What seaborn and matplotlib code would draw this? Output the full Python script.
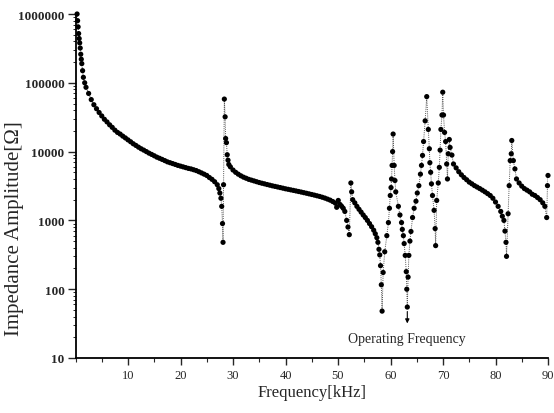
import numpy as np
import pandas as pd
import matplotlib
matplotlib.use("Agg")
import matplotlib.pyplot as plt
import matplotlib.ticker as mticker
import seaborn as sns

# ---- data (frequency in kHz, impedance in ohm) ----
freq_seg1 = [0.3, 0.4, 0.5, 0.6, 0.7, 0.8, 0.9, 1.0, 1.1, 1.2,
             1.35, 1.5, 1.75, 2.0, 2.5, 3.0, 3.5, 4.0, 4.5, 5.0,
             5.5, 6.0, 6.5, 7.0, 7.5, 8.0, 8.5, 9.0, 9.5, 10.0,
             10.5, 11.0, 11.5, 12.0, 12.5, 13.0, 13.5, 14.0, 14.5, 15.0,
             15.5, 16.0, 16.5, 17.0, 17.5, 18.0, 18.5, 19.0, 19.5, 20.0,
             20.5, 21.0, 21.5, 22.0, 22.5, 23.0, 23.5, 24.0, 24.5, 25.0,
             25.5, 26.0, 26.5, 27.0, 27.3, 27.5, 27.7, 27.85, 28.0, 28.1]
imp_seg1 = [1.0e6, 8.0e5, 6.5e5, 5.2e5, 4.4e5, 3.8e5, 3.2e5, 2.6e5, 2.2e5, 1.9e5,
            1.5e5, 1.2e5, 1.0e5, 8.6e4, 7.0e4, 5.7e4, 4.8e4, 4.2e4, 3.7e4, 3.3e4,
            2.95e4, 2.7e4, 2.45e4, 2.25e4, 2.05e4, 1.9e4, 1.8e4, 1.68e4, 1.58e4, 1.48e4,
            1.39e4, 1.3e4, 1.23e4, 1.16e4, 1.1e4, 1.05e4, 1.0e4, 9.5e3, 9.1e3, 8.7e3,
            8.3e3, 8.0e3, 7.7e3, 7.4e3, 7.1e3, 6.9e3, 6.7e3, 6.5e3, 6.3e3, 6.15e3,
            6.0e3, 5.85e3, 5.7e3, 5.6e3, 5.45e3, 5.3e3, 5.1e3, 4.9e3, 4.7e3, 4.5e3,
            4.2e3, 3.95e3, 3.65e3, 3.3e3, 2.9e3, 2.5e3, 2.1e3, 1.6e3, 900, 480]

freq_seg2 = [28.2, 28.35, 28.5, 28.6, 28.75, 28.9, 29.05, 29.2,
             29.5, 30.0, 30.5, 31.0, 31.5, 32.0, 32.5, 33.0, 33.5, 34.0,
             34.5, 35.0, 35.5, 36.0, 36.5, 37.0, 37.5, 38.0, 38.5, 39.0,
             39.5, 40.0, 40.5, 41.0, 41.5, 42.0, 42.5, 43.0, 43.5, 44.0,
             44.5, 45.0, 45.5, 46.0, 46.5, 47.0, 47.5, 48.0, 48.5, 49.0, 49.5]
imp_seg2 = [3.3e3, 5.8e4, 3.2e4, 1.55e4, 1.35e4, 9.0e3, 7.5e3, 6.5e3,
            6.0e3, 5.4e3, 5.0e3, 4.7e3, 4.45e3, 4.25e3, 4.1e3, 3.95e3, 3.85e3, 3.75e3,
            3.65e3, 3.55e3, 3.47e3, 3.4e3, 3.32e3, 3.25e3, 3.18e3, 3.12e3, 3.06e3, 3.0e3,
            2.94e3, 2.88e3, 2.83e3, 2.78e3, 2.73e3, 2.68e3, 2.63e3, 2.58e3, 2.53e3, 2.48e3,
            2.43e3, 2.38e3, 2.33e3, 2.28e3, 2.23e3, 2.17e3, 2.11e3, 2.04e3, 1.97e3, 1.88e3, 1.78e3]

freq_seg3 = [49.75, 50.05, 50.4, 50.7, 51.0, 51.3, 51.65, 51.9, 52.15, 52.45, 52.6,
             52.8, 53.2, 53.6, 54.0, 54.4, 54.8, 55.2, 55.6, 56.0, 56.4,
             56.8, 57.1, 57.4, 57.6, 57.8, 57.95, 58.1, 58.25, 58.4]
imp_seg3 = [1.55e3, 1.95e3, 1.7e3, 1.6e3, 1.5e3, 1.35e3, 1.0e3, 800, 620, 3.5e3, 2.6e3,
            2.0e3, 1.8e3, 1.6e3, 1.45e3, 1.32e3, 1.2e3, 1.1e3, 1.0e3, 900, 810,
            720, 640, 560, 480, 380, 315, 220, 116, 48]

freq_seg4 = [58.6, 58.9, 59.3, 59.6, 59.8, 59.95, 60.1, 60.2, 60.3, 60.4, 60.5,
             60.7, 60.85, 61.0, 61.5, 61.8, 62.1, 62.25, 62.45, 62.6, 62.8, 63.0, 63.1, 63.2,
             63.35, 63.5, 63.7, 63.9, 64.2, 64.5, 64.85, 65.1, 65.4, 65.7, 65.9, 66.1, 66.3, 66.6, 66.9]
imp_seg4 = [175, 350, 600, 930, 1.5e3, 2.3e3, 3.0e3, 4.0e3, 6.3e3, 1.0e4, 1.8e4,
            6.3e3, 3.8e3, 2.6e3, 1.6e3, 1.2e3, 930, 740, 600, 460, 310, 180, 100, 55,
            150, 310, 500, 690, 1.1e3, 1.5e3, 1.9e3, 2.5e3, 3.2e3, 4.7e3, 6.3e3, 8.8e3, 1.4e4, 2.8e4, 6.3e4]

freq_seg5 = [67.2, 67.4, 67.5, 67.65, 67.8, 68.0, 68.3, 68.5, 68.6,
             68.8, 69.1, 69.3, 69.45, 69.6, 69.8, 69.95,
             70.1, 70.3, 70.5, 70.7, 70.85, 71.0, 71.2, 71.35, 71.7]
imp_seg5 = [2.1e4, 1.1e4, 6.9e3, 5.0e3, 3.4e3, 2.3e3, 1.4e3, 760, 430,
            1.95e3, 3.5e3, 5.9e3, 1.05e4, 2.1e4, 3.4e4, 7.3e4,
            3.4e4, 1.9e4, 1.4e4, 6.6e3, 4.0e3, 9.3e3, 1.5e4, 1.15e4, 8.9e3]

freq_seg6 = [72.0, 72.5, 73.0, 73.5, 74.0, 74.5, 75.0, 75.5, 76.0, 76.5,
             77.0, 77.5, 78.0, 78.5, 79.0, 79.5, 80.0, 80.5, 81.0, 81.3,
             81.6, 81.8, 82.0, 82.1, 82.4, 82.6, 82.8, 83.0, 83.1, 83.4,
             83.7, 84.0, 84.5, 85.0, 85.5, 86.0, 86.5, 87.0, 87.5, 88.0,
             88.5, 89.0, 89.4, 89.75, 89.9, 90.0]
imp_seg6 = [6.6e3, 5.8e3, 5.1e3, 4.6e3, 4.2e3, 3.9e3, 3.6e3, 3.4e3, 3.2e3, 3.05e3,
            2.9e3, 2.75e3, 2.6e3, 2.45e3, 2.3e3, 2.1e3, 1.85e3, 1.6e3, 1.35e3, 1.15e3,
            1.0e3, 700, 480, 300, 1.25e3, 3.2e3, 7.4e3, 9.3e3, 1.45e4, 7.4e3,
            5.6e3, 4.0e3, 3.5e3, 3.15e3, 2.9e3, 2.75e3, 2.6e3, 2.4e3, 2.3e3, 2.15e3,
            2.0e3, 1.8e3, 1.6e3, 1.1e3, 3.2e3, 4.5e3]

x_ticks = [10, 20, 30, 40, 50, 60, 70, 80, 90]
y_ticks = [10, 100, 1000, 10000, 100000, 1000000]
y_tick_labels = ["10", "100", "1000", "10000", "100000", "1000000"]
annotation_text = "Operating Frequency"
op_freq = 63.2
x_label = "Frequency[kHz]"
y_label = "Impedance Amplitude[\u03a9]"

freq = freq_seg1 + freq_seg2 + freq_seg3 + freq_seg4 + freq_seg5 + freq_seg6
imp = imp_seg1 + imp_seg2 + imp_seg3 + imp_seg4 + imp_seg5 + imp_seg6
df = pd.DataFrame({"freq": freq, "imp": imp})

# ---- style ----
sns.set_style("ticks")
plt.rcParams["font.family"] = ["Liberation Serif", "DejaVu Serif"]

fig = plt.figure(figsize=(5.54, 4.14), dpi=100)
ax = fig.add_axes([75.5 / 554, 1 - 359 / 414, (548 - 75.5) / 554, (359 - 15) / 414])

sns.lineplot(data=df, x="freq", y="imp", sort=False, estimator=None, ax=ax,
             color="#555555", linewidth=0.7, linestyle=(0, (1, 1.2)))
sns.scatterplot(data=df, x="freq", y="imp", ax=ax, color="black", s=14,
                linewidth=0, edgecolor="none", clip_on=False, zorder=3)

ax.set_yscale("log")
ax.set_xlim(0, 90)
ax.set_ylim(10, 1e6)
ax.set_xticks(x_ticks)
ax.set_xticklabels([str(t) for t in x_ticks])
ax.xaxis.set_minor_locator(mticker.MultipleLocator(5))
ax.set_yticks(y_ticks)
ax.set_yticklabels(y_tick_labels, fontweight="bold")
ax.yaxis.set_minor_locator(mticker.LogLocator(base=10, subs=np.arange(2, 10)))
ax.yaxis.set_minor_formatter(mticker.NullFormatter())

ax.tick_params(axis="x", which="major", direction="out", length=5, width=1, labelsize=9, pad=3)
ax.tick_params(axis="x", which="minor", direction="out", length=3, width=0.8)
ax.tick_params(axis="y", which="major", direction="out", length=6, width=1, labelsize=9.5, pad=2)
ax.tick_params(axis="y", which="minor", direction="out", length=2.5, width=0.7)

sns.despine(ax=ax)
for s in ("left", "bottom"):
    ax.spines[s].set_linewidth(1.3)
    ax.spines[s].set_color("black")

ax.set_xlabel(x_label, fontsize=12, labelpad=2)
ax.set_ylabel(y_label, fontsize=15)
ax.yaxis.set_label_coords((24 - 75.5) / 472.5, (359 - 229) / 344)

ax.annotate("", xy=(op_freq, 29), xytext=(op_freq, 52),
            arrowprops=dict(arrowstyle="-|>", lw=0.8, color="black", mutation_scale=6))
ax.text(op_freq, 19, annotation_text, ha="center", va="center", fontsize=10)

fig.savefig("out.png", dpi=100)
